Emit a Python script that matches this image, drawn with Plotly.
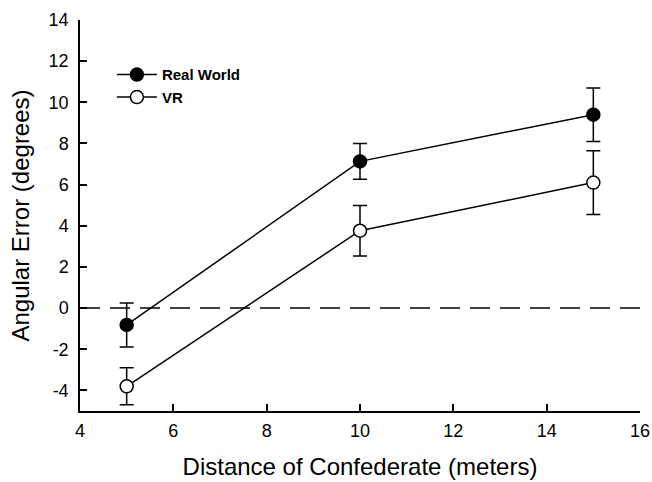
import plotly.graph_objects as go

distance = [5, 10, 15]
real_world = [-0.82, 7.13, 9.40]
real_world_err = [1.07, 0.87, 1.30]
vr = [-3.80, 3.76, 6.10]
vr_err = [0.90, 1.23, 1.55]
x_ticks = [4, 6, 8, 10, 12, 14, 16]
y_ticks = [-4, -2, 0, 2, 4, 6, 8, 10, 12, 14]
y_tick_text = ["-4", "-2", "0", "2", "4", "6", "8", "10", "12", "14"]

FONT = "Liberation Sans, Arial, Helvetica"

fig = go.Figure()
fig.add_trace(go.Scatter(
    x=distance, y=real_world, name="Real World", mode="lines+markers",
    line=dict(color="black", width=1.5),
    marker=dict(symbol="circle", size=13, color="black", line=dict(color="black", width=1.5)),
    error_y=dict(type="data", array=real_world_err, color="black", thickness=1.5, width=7),
))
fig.add_trace(go.Scatter(
    x=distance, y=vr, name="VR", mode="lines+markers",
    line=dict(color="black", width=1.5),
    marker=dict(symbol="circle", size=13, color="white", line=dict(color="black", width=1.5)),
    error_y=dict(type="data", array=vr_err, color="black", thickness=1.5, width=7),
))
fig.add_shape(type="line", xref="x", yref="y", x0=x_ticks[0], x1=x_ticks[-1], y0=0, y1=0,
              line=dict(color="black", width=1.5, dash="20px,10px"), layer="below")

axis_common = dict(showgrid=False, zeroline=False, showline=True, linecolor="black", linewidth=1.5,
                   ticks="inside", ticklen=7, tickwidth=1.5, tickcolor="black", automargin=False,
                   tickfont=dict(family=FONT, size=18, color="black"))
fig.update_xaxes(range=[4, 16], tickvals=x_ticks, ticklabelstandoff=3,
                 title=dict(text="Distance of Confederate (meters)",
                            font=dict(family=FONT, size=24, color="black"),
                            standoff=18),
                 **axis_common)
fig.update_yaxes(range=[-5, 14], tickvals=y_ticks, ticktext=y_tick_text, ticklabelstandoff=6,
                 title=dict(text="Angular Error (degrees)",
                            font=dict(family=FONT, size=24, color="black"),
                            standoff=12),
                 **axis_common)
fig.update_layout(
    width=652, height=482,
    margin=dict(l=80, r=12, t=20, b=71),
    plot_bgcolor="white", paper_bgcolor="white",
    showlegend=True,
    legend=dict(x=0.057, y=0.902, xanchor="left", yanchor="top", bgcolor="rgba(0,0,0,0)",
                font=dict(family=FONT, size=15, color="black", weight="bold"),
                tracegroupgap=0, itemwidth=40),
)
fig.write_html("out.html", config={"displayModeBar": False},
               post_script="document.body.style.margin='0';document.body.style.overflow='hidden';")
